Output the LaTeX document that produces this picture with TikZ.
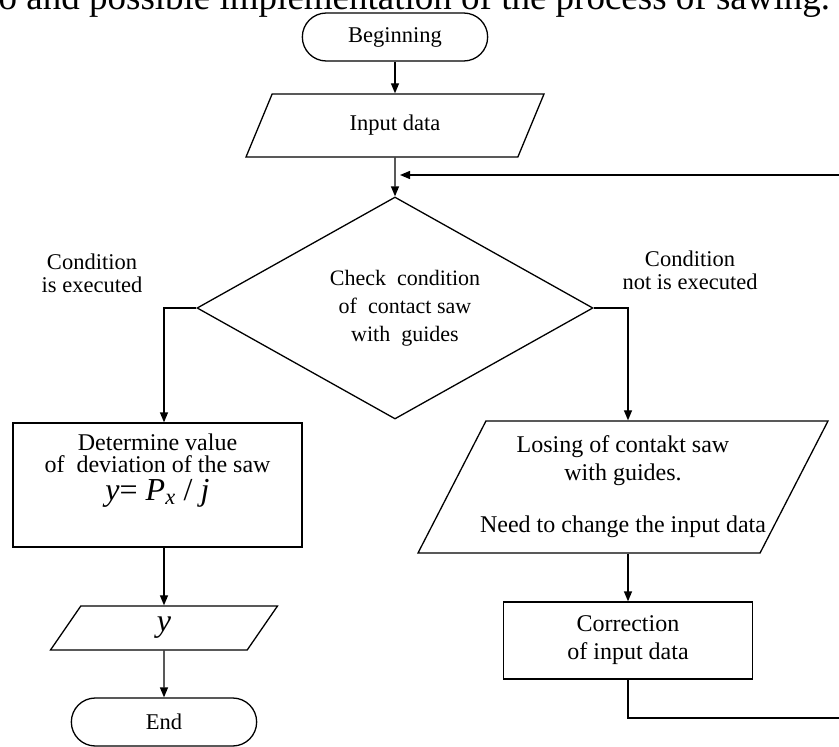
\documentclass[tikz,border=0pt]{standalone}
\usepackage{fontspec}
\setmainfont{Liberation Serif}
\usetikzlibrary{arrows.meta,shapes.geometric,shapes.misc,calc}
\tikzset{
    term/.style = {draw, rounded rectangle, 
        minimum width=192pt, 
        minimum height=48pt},
    block/.style = {draw, rectangle, align=center},
    io/.style = {draw, trapezium, trapezium left angle=#1,
        trapezium right angle={180-#1}, trapezium stretches body, align=center},
    decision/.style = {draw, diamond, aspect=1.8, inner sep=0pt, align=center},
    arrow/.style = {draw, -{Triangle[length=10pt,width=8pt]}},
    note/.style = {align=center}
}

\begin{document}
\begin{tikzpicture}[x=1pt,y=-1pt,line width=1.3pt,font=\fontsize{22.5}{23}\selectfont]
            \useasboundingbox (0,0) rectangle (839,747);
            \clip (0,0) rectangle (839,747);
            \node[anchor=base east,font=\fontsize{37}{37}\selectfont] (title) at (834,9) {o and possible implementation of the process of sawing.};
            % left column
            \node[term] (begin) at (395,37) {Beginning};
            \node[io=46, minimum width=298pt, minimum height=63pt] (data) at (395,125.5) {Input data};
            \node[decision, minimum width=396pt, minimum height=222pt, font=\fontsize{22}{28}\selectfont] (check) at (395,308) {\hspace*{20pt}Check\ \ condition\\\hspace*{20pt}of\ \ contact saw\\\hspace*{20pt}with\ \ guides};
            \node[note] (yes) at (92,273) {Condition\\is executed};
            \node[note] (no) at (690,270) {Condition\\not is executed};
            \node[block, minimum width=289pt, minimum height=124pt, font=\fontsize{24}{22}\selectfont] (det) at (157.5,485) {Determine value\\of\ \ deviation of the saw\\[6pt]{\fontsize{32}{32}\selectfont\textit{y}= \textit{P}\textsubscript{\itshape x} / \textit{j}}\\[14pt]\mbox{}};
            \node[io=43, minimum width=227pt, minimum height=44pt, font=\fontsize{32}{32}\selectfont\itshape] (out) at (164,628) {y};
            \node[term] (stop) at (164,722) {End};
            % right column
            \node[io=58, minimum width=410pt, minimum height=132pt, inner xsep=-30pt, font=\fontsize{24}{28}\selectfont] (lose) at (623,487) {Losing of contakt saw\\with guides.\\[24pt]Need to change the input data};
            \node[block, minimum width=249pt, minimum height=77pt, font=\fontsize{24}{28}\selectfont] (corr) at (628,640.5) {Correction\\of input data};
            \coordinate (back) at (870,718);
            \coordinate (entry) at (400,175);
            % connectors
            \draw[arrow] (begin.south) -- (begin.south |- data.north);
            \draw[arrow] (data.south) -- (check.north);
            \draw[arrow] (check.west) -| (out.north |- det.north);
            \draw[arrow] (check.east) -| (corr.north |- lose.north);
            \draw[arrow] (det.south -| out.north) -- (out.north);
            \draw[arrow] (out.south) -- (stop.north);
            \draw[arrow] (lose.south -| corr.north) -- (corr.north);
            \draw[arrow] (corr.south) |- (back) |- (entry);
\end{tikzpicture}
\end{document}
